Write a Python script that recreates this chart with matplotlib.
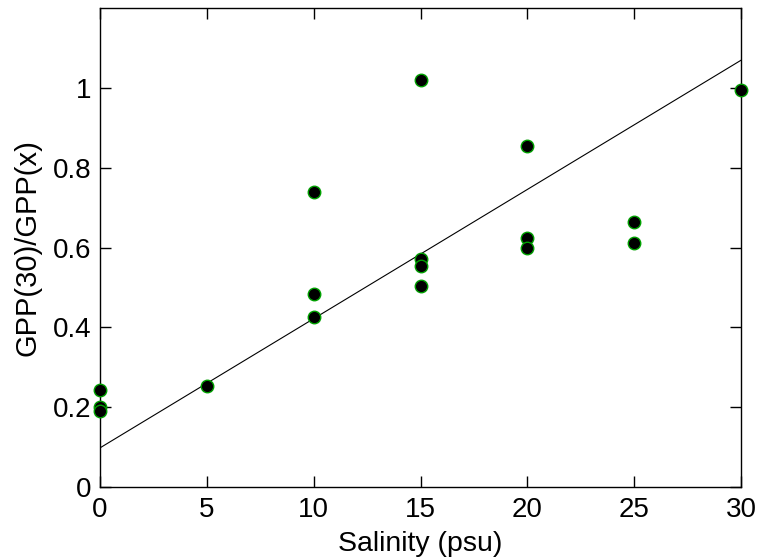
import numpy as np
import matplotlib.pyplot as plt

# Salinity levels and GPP ratio
salinity = [0, 0, 0, 5, 10, 10, 10, 15, 15, 15, 15, 20, 20, 20, 25, 25, 30]
gpp_ratio = [0.2425, 0.20, 0.19, 0.2525, 0.74, 0.4825, 0.425,
             1.02, 0.57, 0.5525, 0.5025, 0.855, 0.625, 0.60,
             0.663, 0.6125, 0.995]

# Linear fit drawn on the figure (intercept, slope)
fit_intercept = 0.098
fit_slope = 0.03237

plt.rcParams['font.family'] = ['Liberation Sans', 'DejaVu Sans']

fig = plt.figure(figsize=(7.59, 5.6), dpi=100)
ax = fig.add_axes([100 / 759, 1 - 487 / 560, 641 / 759, 479 / 560])

xfit = np.array([0, 30])
ax.plot(xfit, fit_intercept + fit_slope * xfit, color='black', linewidth=0.8)
ax.plot(salinity, gpp_ratio, 'o', markerfacecolor='black', markeredgecolor='#00a000',
        markeredgewidth=1.0, markersize=9, clip_on=False, zorder=3)

ax.set_xlim(0, 30)
ax.set_ylim(0, 1.2)
ax.set_xticks([0, 5, 10, 15, 20, 25, 30])
ax.set_yticks([0, 0.2, 0.4, 0.6, 0.8, 1.0])
ax.set_yticklabels(['0', '0.2', '0.4', '0.6', '0.8', '1'])
ax.tick_params(direction='in', length=8, width=1, top=True, right=True,
               labelsize=20)
ax.tick_params(axis='x', pad=7)
ax.tick_params(axis='y', pad=6)
for s in ax.spines.values():
    s.set_linewidth(1)

ax.set_xlabel('Salinity (psu)', fontsize=20.5, labelpad=6)
ax.set_ylabel('GPP(30)/GPP(x)', fontsize=21, labelpad=8)

fig.savefig('out.png', dpi=100)
